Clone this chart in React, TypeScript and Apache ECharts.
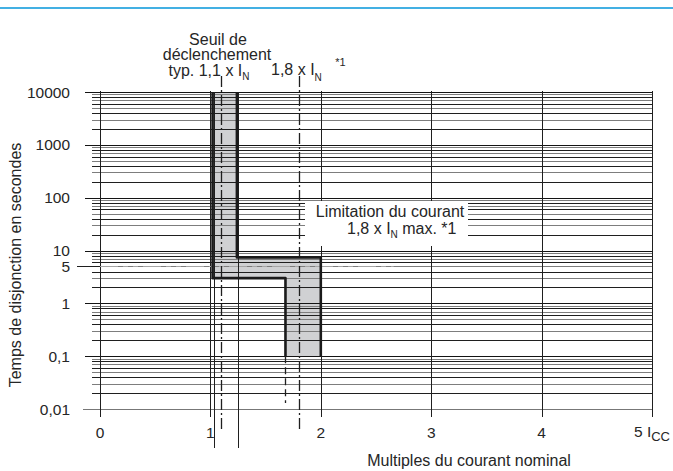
import React, { useEffect, useRef } from 'react';
import * as echarts from 'echarts';

const FONT = '"Liberation Sans", Arial, Helvetica, sans-serif';
const TEXT = '#262626';

// ---- data ----
const xTickValues = [0, 1, 2, 3, 4, 5];
const yDecades = [0.01, 0.1, 1, 10, 100, 1000, 10000];
const minorSteps = [2, 3, 4, 5, 6, 7, 8, 9];
const referenceLevel = 5;
const referenceLevelEndX = 2.66;
const bandLeftX = [1.02, 1.02, 1.68, 1.68];
const bandLeftY = [10000, 3, 3, 0.1];
const bandRightX = [1.24, 1.24, 2, 2];
const bandRightY = [10000, 7.4, 7.4, 0.1];
const guideSolidX = [1.03, 1.25];
const guideDashDotX = [1.1, 1.8];
const guideDashedX = [1.68];
const guideDashedY = [0.1, 0.013];

const X_MIN = 0;
const X_MAX = 5;
const Y_MIN = 0.01;
const Y_MAX = 10000;

export default function App() {
  const ref = useRef<HTMLDivElement>(null);

  useEffect(() => {
    if (!ref.current) return;
    const chart = echarts.init(ref.current, undefined, { renderer: 'svg' });

    // horizontal grid lines: [x, value, kind]
    const hGrid: number[][] = [];
    yDecades.forEach((d, i) => {
      hGrid.push([X_MIN, d, i === 0 ? 3 : 0]);
      if (i < yDecades.length - 1) {
        minorSteps.forEach((k) => hGrid.push([X_MIN, d * k, k % 2 === 0 ? 1 : 2]));
      }
    });
    const hColors = ['#141414', '#1f1f1f', '#7d7d7d', '#777777'];
    const hExt = [15, 8, 8, 17];

    const bandPoints = [
      ...bandLeftX.map((x, i) => [x, bandLeftY[i]]),
      ...bandRightX.map((x, i) => [x, bandRightY[i]]).reverse(),
    ];

    const option: any = {
      animation: false,
      grid: { left: 100, right: 14, top: 92, bottom: 62, containLabel: false },
      xAxis: {
        type: 'value',
        min: X_MIN,
        max: X_MAX,
        interval: 1,
        axisLine: { show: false },
        axisTick: { show: false },
        splitLine: { show: false },
        axisLabel: {
          margin: 14,
          fontSize: 15.5,
          lineHeight: 18,
          color: TEXT,
          fontFamily: FONT,
          formatter: (v: number) => (v === 5 ? '{m|5 I}{s|CC}' : String(v)),
          rich: {
            m: { fontSize: 15.5, lineHeight: 18, verticalAlign: 'top', color: TEXT, fontFamily: FONT },
            s: { fontSize: 13, lineHeight: 13, padding: [7, 0, 0, 0], verticalAlign: 'top', color: TEXT, fontFamily: FONT },
          },
        },
      },
      yAxis: {
        type: 'log',
        logBase: 10,
        min: Y_MIN,
        max: Y_MAX,
        axisLine: { show: false },
        axisTick: { show: false },
        splitLine: { show: false },
        minorSplitLine: { show: false },
        axisLabel: {
          margin: 30,
          fontSize: 15.5,
          color: TEXT,
          fontFamily: FONT,
          formatter: (v: number) => String(Number(Number(v).toPrecision(6))).replace('.', ','),
        },
      },
      graphic: [
        { type: 'rect', z: 100, shape: { x: 0, y: 7, width: 673, height: 2 }, style: { fill: '#43b0e3' } },
        {
          type: 'text', z: 100, x: 218, y: 39,
          style: { text: 'Seuil de', fontSize: 16, lineHeight: 15, fontFamily: FONT, fill: TEXT, align: 'center', verticalAlign: 'middle' },
        },
        {
          type: 'text', z: 100, x: 217, y: 54.5,
          style: { text: 'déclenchement', fontSize: 16, lineHeight: 15, fontFamily: FONT, fill: TEXT, align: 'center', verticalAlign: 'middle' },
        },
        {
          type: 'text', z: 100, x: 209, y: 62.5,
          style: {
            text: '{m|typ. 1,1 x I}{s|N}', align: 'center', verticalAlign: 'top',
            rich: {
              m: { fontSize: 16, lineHeight: 15, verticalAlign: 'top', fill: TEXT, fontFamily: FONT },
              s: { fontSize: 10, lineHeight: 10, padding: [9, 0, 0, 0], verticalAlign: 'top', fill: TEXT, fontFamily: FONT },
            },
          },
        },
        {
          type: 'text', z: 100, x: 271, y: 55,
          style: {
            text: '{m|1,8 x I}{s|N}{m|   }{p|*1}', align: 'left', verticalAlign: 'top',
            rich: {
              m: { fontSize: 16, lineHeight: 18, padding: [6, 0, 0, 0], verticalAlign: 'top', fill: TEXT, fontFamily: FONT },
              s: { fontSize: 10, lineHeight: 10, padding: [17, 0, 0, 0], verticalAlign: 'top', fill: TEXT, fontFamily: FONT },
              p: { fontSize: 11, lineHeight: 11, padding: [1, 0, 0, 0], verticalAlign: 'top', fill: TEXT, fontFamily: FONT },
            },
          },
        },
        { type: 'rect', z: 100, shape: { x: 305, y: 201, width: 163, height: 45 }, style: { fill: '#ffffff' } },
        {
          type: 'text', z: 101, x: 390, y: 211.5,
          style: { text: 'Limitation du courant', fontSize: 16, lineHeight: 15, fontFamily: FONT, fill: TEXT, align: 'center', verticalAlign: 'middle' },
        },
        {
          type: 'text', z: 101, x: 347, y: 220.5,
          style: {
            text: '{m|1,8 x I}{s|N}{m| max. *1}', align: 'left', verticalAlign: 'top',
            rich: {
              m: { fontSize: 16, lineHeight: 15, verticalAlign: 'top', fill: TEXT, fontFamily: FONT },
              s: { fontSize: 10, lineHeight: 10, padding: [9, 0, 0, 0], verticalAlign: 'top', fill: TEXT, fontFamily: FONT },
            },
          },
        },
        {
          type: 'text', z: 100, x: 15, y: 265, rotation: Math.PI / 2,
          style: { text: 'Temps de disjonction en secondes', fontSize: 16, fontFamily: FONT, fill: TEXT, align: 'center', verticalAlign: 'middle' },
        },
        {
          type: 'text', z: 100, x: 469, y: 460,
          style: { text: 'Multiples du courant nominal', fontSize: 16, fontFamily: FONT, fill: TEXT, align: 'center', verticalAlign: 'middle' },
        },
      ],
      series: [
        // band fill
        {
          type: 'custom',
          z: 1,
          silent: true,
          data: [bandPoints[0]],
          renderItem: (_p: any, api: any) => ({
            type: 'polygon',
            shape: { points: bandPoints.map((pt) => api.coord(pt)) },
            style: { fill: '#d0d1d3' },
          }),
        },
        // horizontal grid lines
        {
          type: 'custom',
          z: 2,
          silent: true,
          data: hGrid,
          renderItem: (_p: any, api: any) => {
            const v = api.value(1);
            const kind = api.value(2);
            const a = api.coord([X_MIN, v]);
            const b = api.coord([X_MAX, v]);
            const y = Math.round(a[1]) + 0.5;
            return {
              type: 'line',
              shape: { x1: a[0] - hExt[kind], y1: y, x2: b[0], y2: y },
              style: { stroke: hColors[kind], lineWidth: 1 },
            };
          },
        },
        // vertical grid lines
        {
          type: 'custom',
          z: 2,
          silent: true,
          data: xTickValues.map((x) => [x, Y_MIN]),
          renderItem: (_p: any, api: any) => {
            const x = api.value(0);
            const a = api.coord([x, Y_MAX]);
            const b = api.coord([x, Y_MIN]);
            const xx = Math.round(a[0]) + 0.5;
            return {
              type: 'line',
              shape: { x1: xx, y1: a[1] - 1, x2: xx, y2: b[1] + 8 },
              style: { stroke: '#1f1f1f', lineWidth: 1 },
            };
          },
        },
        // 5 s reference level
        {
          type: 'custom',
          z: 3,
          silent: true,
          data: [[X_MIN, referenceLevel]],
          renderItem: (_p: any, api: any) => {
            const v = api.value(1);
            const a = api.coord([X_MIN, v]);
            const b = api.coord([referenceLevelEndX, v]);
            const y = Math.round(a[1]) + 0.5;
            return {
              type: 'group',
              children: [
                { type: 'line', shape: { x1: a[0] - 23, y1: y, x2: a[0], y2: y }, style: { stroke: '#1f1f1f', lineWidth: 1 } },
                { type: 'line', shape: { x1: a[0], y1: y, x2: b[0], y2: y }, style: { stroke: '#a5a5a5', lineWidth: 1, lineDash: [18, 5, 5, 5, 5, 5] } },
                {
                  type: 'text', x: a[0] - 30, y: a[1],
                  style: { text: String(v), fontSize: 15.5, fontFamily: FONT, fill: TEXT, align: 'right', verticalAlign: 'middle' },
                },
              ],
            };
          },
        },
        // solid thin guides
        {
          type: 'custom',
          z: 3,
          silent: true,
          data: guideSolidX.map((x) => [x, Y_MAX]),
          renderItem: (_p: any, api: any) => {
            const x = api.value(0);
            const a = api.coord([x, Y_MAX]);
            const b = api.coord([x, Y_MIN]);
            const xx = Math.round(a[0]) + 0.5;
            return { type: 'line', shape: { x1: xx, y1: a[1], x2: xx, y2: b[1] + 39 }, style: { stroke: '#1f1f1f', lineWidth: 1 } };
          },
        },
        // dash-dot guides
        {
          type: 'custom',
          z: 3,
          silent: true,
          data: guideDashDotX.map((x) => [x, Y_MAX]),
          renderItem: (_p: any, api: any) => {
            const x = api.value(0);
            const a = api.coord([x, Y_MAX]);
            const b = api.coord([x, Y_MIN]);
            const xx = Math.round(a[0]) + 0.5;
            return {
              type: 'line',
              shape: { x1: xx, y1: a[1] - 16, x2: xx, y2: b[1] + 20 },
              style: { stroke: '#1f1f1f', lineWidth: 1.3, lineDash: [11, 3, 2, 3] },
            };
          },
        },
        // dashed guide below the band
        {
          type: 'custom',
          z: 3,
          silent: true,
          data: guideDashedX.map((x) => [x, guideDashedY[0]]),
          renderItem: (_p: any, api: any) => {
            const x = api.value(0);
            const a = api.coord([x, guideDashedY[0]]);
            const b = api.coord([x, guideDashedY[1]]);
            const xx = Math.round(a[0]) + 0.5;
            return {
              type: 'line',
              shape: { x1: xx, y1: a[1], x2: xx, y2: b[1] },
              style: { stroke: '#1f1f1f', lineWidth: 1.3, lineDash: [7, 4] },
            };
          },
        },
        // band borders
        {
          type: 'line',
          z: 4,
          silent: true,
          symbol: 'none',
          data: bandLeftX.map((x, i) => [x, bandLeftY[i]]),
          lineStyle: { color: '#1a1a1a', width: 2.6, join: 'round' },
        },
        {
          type: 'line',
          z: 4,
          silent: true,
          symbol: 'none',
          data: bandRightX.map((x, i) => [x, bandRightY[i]]),
          lineStyle: { color: '#1a1a1a', width: 2.6, join: 'round' },
        },
      ],
    };

    chart.setOption(option);
    return () => chart.dispose();
  }, []);

  return (
    <div
      ref={ref}
      style={{ position: 'fixed', left: 0, top: 0, width: 673, height: 471, background: '#ffffff' }}
    />
  );
}
